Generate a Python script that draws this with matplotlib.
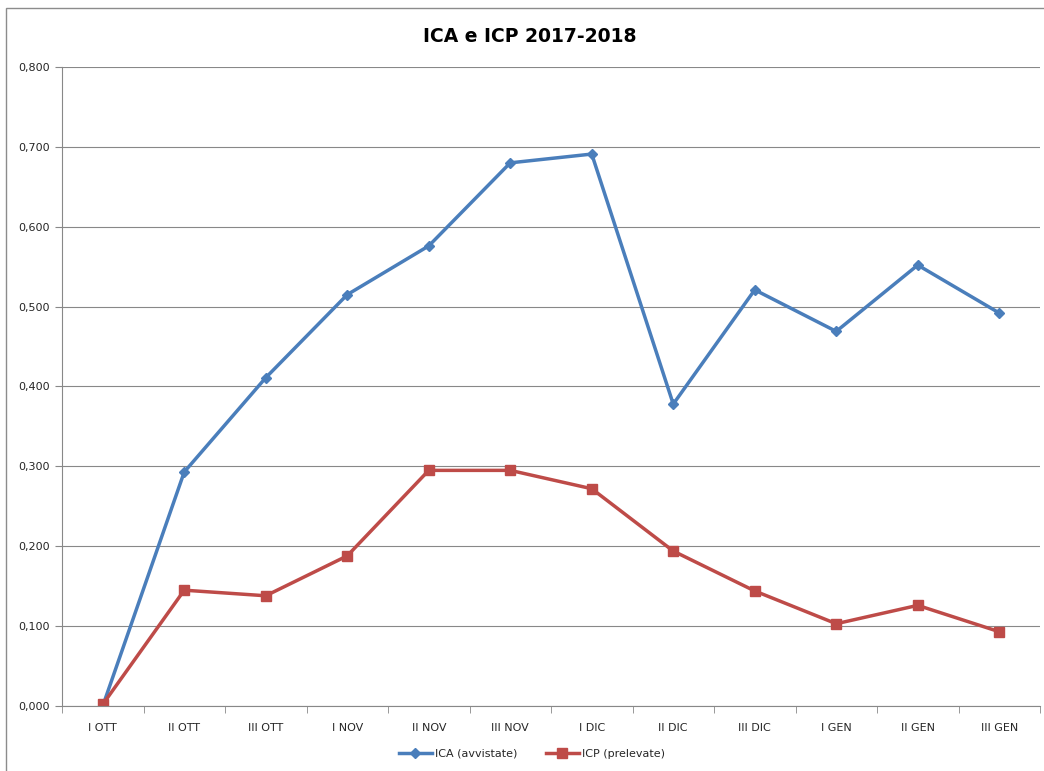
import numpy as np
import matplotlib.pyplot as plt
from matplotlib.patches import Rectangle

periodi = ["I OTT", "II OTT", "III OTT", "I NOV", "II NOV", "III NOV",
           "I DIC", "II DIC", "III DIC", "I GEN", "II GEN", "III GEN"]
ica = [0.000, 0.293, 0.411, 0.515, 0.576, 0.680, 0.691, 0.378, 0.521, 0.469, 0.552, 0.492]
icp = [0.002, 0.145, 0.138, 0.188, 0.295, 0.295, 0.272, 0.194, 0.144, 0.103, 0.126, 0.093]

fig = plt.figure(figsize=(10.44, 7.71), dpi=100)
fig.patches.append(Rectangle((6 / 1044, -0.01), 1.1, 1 - 8 / 771 + 0.01, transform=fig.transFigure,
                             fill=False, edgecolor="#8c8c8c", linewidth=1))
ax = fig.add_axes([62 / 1044, 1 - 706 / 771, (1040 - 62) / 1044, (706 - 67) / 771])

x = np.arange(len(periodi))
ax.plot(x, ica, color="#4a7ebb", linewidth=2.5, marker="D", markersize=5, label="ICA (avvistate)")
ax.plot(x, icp, color="#be4b48", linewidth=2.5, marker="s", markersize=7, label="ICP (prelevate)")

ax.set_xlim(-0.5, len(periodi) - 0.5)
ax.set_ylim(0, 0.8)
ax.set_yticks(np.arange(0, 0.81, 0.1))
ax.set_yticklabels([f"{v:.3f}".replace(".", ",") for v in np.arange(0, 0.81, 0.1)],
                   fontsize=8, color="#262626")
ax.set_xticks(x)
ax.set_xticklabels(periodi, fontsize=8, color="#262626")
ax.set_xticks(np.arange(-0.5, len(periodi), 1), minor=True)
ax.tick_params(axis="x", which="major", length=0, pad=12)
ax.tick_params(axis="x", which="minor", length=5, color="#888888")
ax.tick_params(axis="y", length=5, color="#888888", pad=4)
ax.grid(axis="y", color="#888888", linewidth=0.8)
ax.set_axisbelow(True)
for s in ["top", "right"]:
    ax.spines[s].set_visible(False)
for s in ["left", "bottom"]:
    ax.spines[s].set_color("#888888")

fig.text(530 / 1044, 1 - 36 / 771, "ICA e ICP 2017-2018", ha="center", va="center",
         fontsize=13.5, fontweight="bold")
leg = fig.legend(loc="center", bbox_to_anchor=(532 / 1044, 1 - 754 / 771), ncol=2, frameon=False,
                 fontsize=8, handlelength=3, handletextpad=0.3, columnspacing=2.5)
for t in leg.get_texts():
    t.set_color("#262626")

fig.savefig("out.png", dpi=100)
